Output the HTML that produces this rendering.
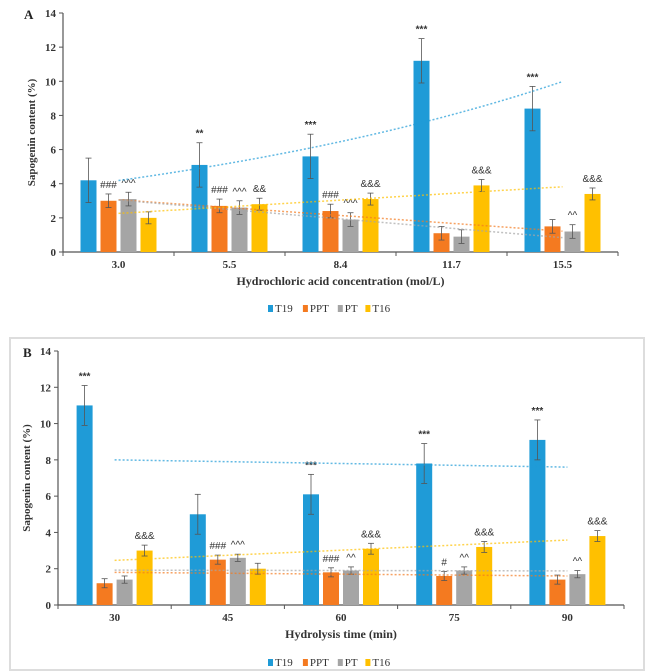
<!DOCTYPE html>
<html><head><meta charset="utf-8"><style>
body{margin:0;background:#fff;width:646px;height:672px;overflow:hidden}
svg{display:block;font-family:"Liberation Serif",serif}
</style></head><body>
<svg id="chart" width="646" height="672">
<rect x="10" y="338" width="634" height="332" fill="none" stroke="#ddd" stroke-width="2"/>
</svg>
<script>
const seriesNames=["T19","PPT","PT","T16"];
const colors=["#1f9bd7","#f47a20","#a5a5a5","#ffc000"];
const catsA=["3.0","5.5","8.4","11.7","15.5"];
const t19A=[4.2,5.1,5.6,11.2,8.4];
const pptA=[3.0,2.7,2.4,1.1,1.5];
const ptA=[3.1,2.6,1.9,0.9,1.2];
const t16A=[2.0,2.8,3.1,3.9,3.4];
const errA=[[1.3,1.3,1.3,1.3,1.3],[0.4,0.4,0.4,0.4,0.4],[0.4,0.4,0.4,0.4,0.4],[0.35,0.35,0.35,0.35,0.35]];
const sigA=[["","**","***","***","***"],["###","###","###","",""],["^^^","^^^","^^^","","^^"],["","&&","&&&","&&&","&&&"]];
const catsB=["30","45","60","75","90"];
const t19B=[11.0,5.0,6.1,7.8,9.1];
const pptB=[1.2,2.5,1.8,1.6,1.4];
const ptB=[1.4,2.6,1.9,1.9,1.7];
const t16B=[3.0,2.0,3.1,3.2,3.8];
const errB=[[1.1,1.1,1.1,1.1,1.1],[0.25,0.25,0.25,0.25,0.25],[0.2,0.2,0.2,0.2,0.2],[0.3,0.3,0.3,0.3,0.3]];
const sigB=[["***","","***","***","***"],["","###","###","#",""],["","^^^","^^","^^","^^"],["&&&","","&&&","&&&","&&&"]];
const yTicks=[0,2,4,6,8,10,12,14];
const NS="http://www.w3.org/2000/svg";
const svg=document.getElementById('chart');
function mk(t,a,p){const e=document.createElementNS(NS,t);for(const k in a)e.setAttribute(k,a[k]);(p||svg).appendChild(e);return e;}
function fitLin(v){const n=v.length;let sx=0,sy=0,sxx=0,sxy=0;v.forEach((y,i)=>{sx+=i;sy+=y;sxx+=i*i;sxy+=i*y;});const b=(n*sxy-sx*sy)/(n*sxx-sx*sx);const a=(sy-b*sx)/n;return i=>a+b*i;}
function fitExp(v){const f=fitLin(v.map(Math.log));return i=>Math.exp(f(i));}
function panel(p){
  const g=mk('g',{});
  
  
  const y=v=>p.y0-(p.y0-p.y14)*v/14;
  const cw=(p.x1-p.x0)/p.cats.length;
  const cx=i=>p.x0+cw*(i+0.5);
  mk('line',{x1:p.x0,y1:p.y14,x2:p.x0,y2:p.y0,stroke:'#555','stroke-width':1.2},g);
  mk('line',{x1:p.x0,y1:p.y0,x2:p.x1,y2:p.y0,stroke:'#555','stroke-width':1.2},g);
  yTicks.forEach(t=>{
    mk('line',{x1:p.x0-4,y1:y(t),x2:p.x0,y2:y(t),stroke:'#555'},g);
    const tx=mk('text',{x:p.x0-7,y:y(t)+4,'text-anchor':'end','font-size':11,'font-weight':'bold',fill:'#333'},g);
    tx.textContent=t;
    
    
  });
  for(let i=0;i<=p.cats.length;i++)mk('line',{x1:p.x0+cw*i,y1:p.y0,x2:p.x0+cw*i,y2:p.y0+4,stroke:'#555'},g);
  p.cats.forEach((c,i)=>{
    const tx=mk('text',{x:cx(i),y:p.y0+16,'text-anchor':'middle','font-size':11,'font-weight':'bold',fill:'#333'},g);
    tx.textContent=c;
    
    
  });
  const offs=[-30,-10,10,30];
  p.series.forEach((vals,s)=>{
    vals.forEach((v,i)=>{
      const x=cx(i)+offs[s];
      const r=mk('rect',{x:x-8,y:y(v),width:16,height:p.y0-y(v),fill:colors[s]},g);
      
      
      const e=p.err[s][i];
      mk('line',{x1:x,y1:y(v+e),x2:x,y2:y(v-e),stroke:'#555','stroke-width':0.8},g);
      mk('line',{x1:x-3,y1:y(v+e),x2:x+3,y2:y(v+e),stroke:'#555','stroke-width':0.8},g);
      mk('line',{x1:x-3,y1:y(v-e),x2:x+3,y2:y(v-e),stroke:'#555','stroke-width':0.8},g);
      const sg=p.sig[s][i];
      if(sg){const tx=mk('text',{x:x,y:y(v+e)-6,'text-anchor':'middle','font-size':10,'font-weight':sg[0]==='*'?'bold':'normal',fill:'#333','font-family':'Liberation Sans, sans-serif'},g);
        tx.textContent=sg;
        
        }
    });
  });
  p.series.forEach((vals,s)=>{
    const f=(p.expFirst&&s===0)?fitExp(vals):fitLin(vals);
    let d='';
    for(let k=0;k<=40;k++){const t=k/40*(vals.length-1);d+=(k?'L':'M')+(cx(0)+t*cw)+','+y(f(t));}
    const pl=mk('path',{d:d,fill:'none',stroke:colors[s],'stroke-width':1.5,'stroke-dasharray':'2 2',opacity:0.7},g);
    
    
  });
  const lb=mk('text',{x:p.labelX,y:p.y14+6,'font-size':13,'font-weight':'bold',fill:'#222'},g);
  lb.textContent=p.label;
  
  
  const yt=mk('text',{x:0,y:0,transform:`translate(${p.x0-28},${(p.y0+p.y14)/2}) rotate(-90)`,'text-anchor':'middle','font-size':11,'font-weight':'bold',fill:'#333'},g);
  yt.textContent='Sapogenin content (%)';
  
  
  const xt=mk('text',{x:(p.x0+p.x1)/2,y:p.y0+33,'text-anchor':'middle','font-size':12,'font-weight':'bold',fill:'#333'},g);
  xt.textContent=p.xTitle;
  
  
  let lx=p.legX;
  seriesNames.forEach((n,s)=>{
    const lg=mk('g',{},g);
    
    
    mk('rect',{x:lx,y:p.legY-7,width:5,height:7,fill:colors[s]},lg);
    const t=mk('text',{x:lx+7,y:p.legY,'font-size':11,fill:'#333'},lg);
    t.textContent=n;
    lx+=7+n.length*7.3+6;
  });
}
panel({name:'panel-a-chart',label:'A',labelX:24,x0:63,x1:618,y0:252,y14:13,cats:catsA,series:[t19A,pptA,ptA,t16A],err:errA,sig:sigA,expFirst:true,xTitle:'Hydrochloric acid concentration (mol/L)',legX:268,legY:312});
panel({name:'panel-b-chart',label:'B',labelX:23,x0:58,x1:624,y0:605,y14:351,cats:catsB,series:[t19B,pptB,ptB,t16B],err:errB,sig:sigB,expFirst:false,xTitle:'Hydrolysis time (min)',legX:268,legY:666});
</script>
</body></html>
